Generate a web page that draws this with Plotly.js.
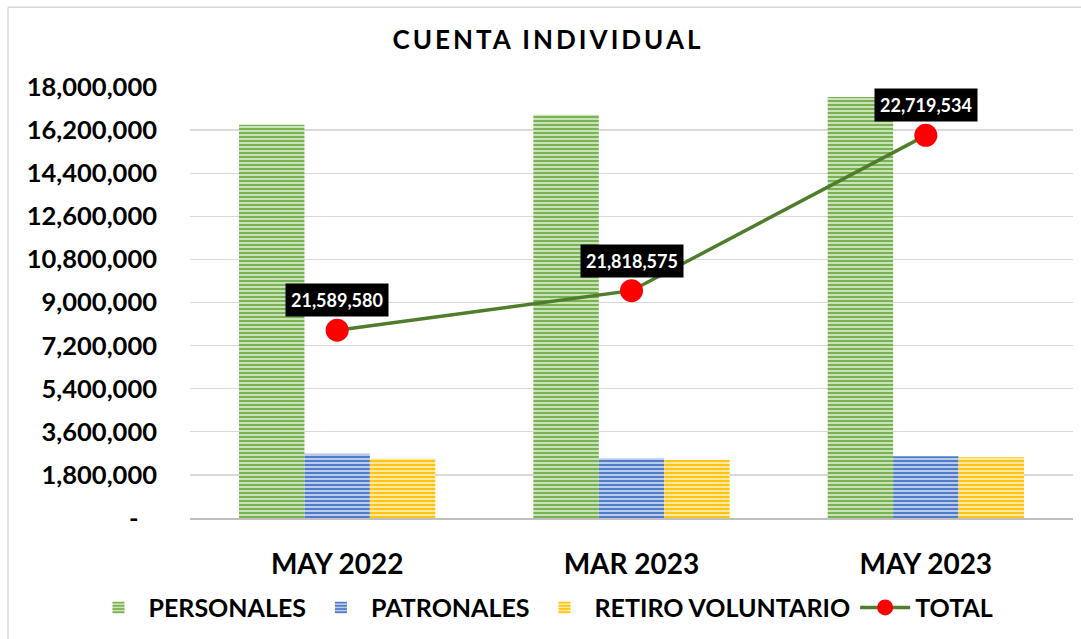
<!DOCTYPE html>
<html>
<head>
<meta charset="utf-8">
<script src="https://cdn.plot.ly/plotly-3.0.1.min.js"></script>
<style>
  html, body { margin: 0; padding: 0; background: #fff; }
  #chart { width: 1081px; height: 639px; }
  .gtitle { letter-spacing: 3px; }
</style>
</head>
<body>
<div id="chart"></div>
<script>
const categories = ["MAY 2022", "MAR 2023", "MAY 2023"];
const personales = [16420000, 16840000, 17580000];
const patronales = [2680000, 2500000, 2580000];
const retiroVoluntario = [2480000, 2420000, 2540000];
const total = [21589580, 21818575, 22719534];
const yTickVals = [0, 1800000, 3600000, 5400000, 7200000, 9000000, 10800000, 12600000, 14400000, 16200000, 18000000];
const yTickText = ["-\u00a0\u00a0\u00a0", "1,800,000", "3,600,000", "5,400,000", "7,200,000", "9,000,000", "10,800,000", "12,600,000", "14,400,000", "16,200,000", "18,000,000"];

const FONT = "Lato, 'Open Sans', 'DejaVu Sans', sans-serif";

function barTrace(name, y, bg, fg) {
  return {
    type: 'bar', name: name, x: categories, y: y,
    marker: {
      color: bg,
      line: { width: 0 },
      pattern: { shape: '-', fgcolor: fg, bgcolor: bg, size: 4, solidity: 0.45 }
    },
    hoverinfo: 'skip'
  };
}

const data = [
  barTrace('PERSONALES', personales, '#c9e2b8', '#70ad47'),
  barTrace('PATRONALES', patronales, '#b9cbea', '#4472c4'),
  barTrace('RETIRO VOLUNTARIO', retiroVoluntario, '#ffe8a3', '#ffc000'),
  {
    type: 'scatter', mode: 'lines+markers', name: 'TOTAL',
    x: categories, y: total, yaxis: 'y2',
    line: { color: '#4f7d2c', width: 3.5 },
    marker: { color: '#ff0000', size: 23 },
    hoverinfo: 'skip'
  }
];

const annotations = total.map((v, i) => ({
  x: categories[i], y: v, xref: 'x', yref: 'y2',
  text: v.toLocaleString('en-US'),
  showarrow: false, yshift: 30,
  bgcolor: '#000000', borderpad: 5,
  font: { family: FONT, size: 18, color: '#ffffff', weight: 'bold' }
}));

const PX = 883, PY = 433;
const bx = (8 - 190) / PX;
const byTop = (520 - 7) / PY;
const byBot = (520 - 645) / PY;

const layout = {
  width: 1081, height: 639,
  margin: { l: 190, r: 8, t: 87, b: 119 },
  paper_bgcolor: '#ffffff', plot_bgcolor: '#ffffff',
  font: { family: FONT, color: '#000000' },
  title: {
    text: '<b>CUENTA INDIVIDUAL</b>',
    font: { family: FONT, size: 26, color: '#000000' },
    x: 0.507, xref: 'container', xanchor: 'center',
    y: 0.937, yref: 'container', yanchor: 'middle',
    automargin: false
  },
  barmode: 'group', bargap: 0.333, bargroupgap: 0,
  xaxis: {
    type: 'category', automargin: false,
    tickfont: { family: FONT, size: 28, color: '#000000', weight: 'bold' },
    ticklabelstandoff: 20,
    showgrid: false, showline: true, linecolor: '#bfbfbf', linewidth: 2,
    ticks: '', zeroline: false, fixedrange: true
  },
  yaxis: {
    range: [0, 18000000], automargin: false,
    tickmode: 'array', tickvals: yTickVals, ticktext: yTickText,
    tickfont: { family: FONT, size: 25.5, color: '#000000', weight: 'bold' },
    ticklabelstandoff: 32,
    showgrid: true, gridcolor: '#d9d9d9', gridwidth: 1.3,
    zeroline: false, showline: false, ticks: '', fixedrange: true
  },
  yaxis2: {
    overlaying: 'y', side: 'right', range: [20500000, 23000000],
    visible: false, showgrid: false, fixedrange: true, automargin: false
  },
  legend: {
    orientation: 'h', x: -0.115, xanchor: 'left', y: -0.208, yanchor: 'middle',
    font: { family: FONT, size: 25, color: '#000000', weight: 'bold' },
    itemwidth: 50, tracegroupgap: 0, traceorder: 'normal'
  },
  annotations: annotations,
  shapes: [
    { type: 'line', xref: 'paper', yref: 'paper', x0: bx, x1: bx, y0: byBot, y1: byTop, line: { color: '#d9d9d9', width: 1.5 } },
    { type: 'line', xref: 'paper', yref: 'paper', x0: bx, x1: 1.02, y0: byTop, y1: byTop, line: { color: '#d9d9d9', width: 1.5 } }
  ]
};

Plotly.newPlot('chart', data, layout, { displayModeBar: false, staticPlot: true });
</script>
</body>
</html>
